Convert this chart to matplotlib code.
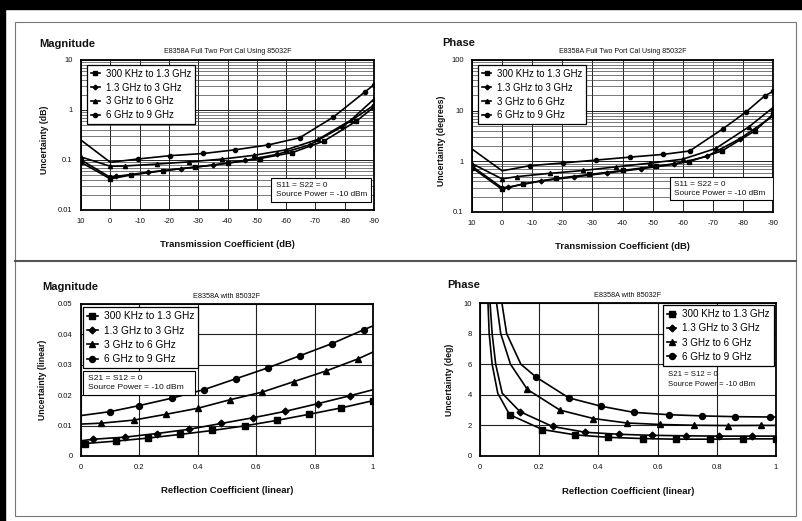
import matplotlib
matplotlib.use('Agg')
import matplotlib.pyplot as plt
from matplotlib.patches import Rectangle
from matplotlib.lines import Line2D
from matplotlib.ticker import LogLocator, NullFormatter

plt.rcParams['font.family'] = ['Liberation Sans', 'DejaVu Sans']

# ---------------- data ----------------
series_labels = ['300 KHz to 1.3 GHz', '1.3 GHz to 3 GHz', '3 GHz to 6 GHz', '6 GHz to 9 GHz']
series_markers = ['s', 'D', '^', 'o']

trans_ticks = [10, 0, -10, -20, -30, -40, -50, -60, -70, -80, -90]
trans_ticklabels = ['10', '0', '-10', '-20', '-30', '-40', '-50', '-60', '-70', '-80', '-90']
refl_ticks = [0, 0.2, 0.4, 0.6, 0.8, 1]
refl_ticklabels = ['0', '0.2', '0.4', '0.6', '0.8', '1']

# Top-left: Magnitude uncertainty (dB) vs transmission coefficient
tl_x_sq = [10, 0, -7, -18, -29, -40, -51, -62, -73, -84, -90]
tl_y_sq = [0.09, 0.042, 0.05, 0.061, 0.072, 0.086, 0.107, 0.14, 0.24, 0.6, 1.15]
tl_x_di = [10, 0, -2, -13, -24, -35, -46, -57, -68, -79, -90]
tl_y_di = [0.1, 0.045, 0.047, 0.057, 0.067, 0.079, 0.098, 0.13, 0.2, 0.46, 1.25]
tl_x_tr = [10, 0, -5, -16, -27, -38, -49, -60, -71, -82, -90]
tl_y_tr = [0.115, 0.075, 0.076, 0.083, 0.092, 0.104, 0.124, 0.16, 0.26, 0.62, 1.65]
tl_x_ci = [10, 0, -9.6, -20.4, -31.8, -42.6, -53.9, -64.7, -76.1, -86.9, -90]
tl_y_ci = [0.25, 0.09, 0.105, 0.122, 0.135, 0.16, 0.2, 0.28, 0.72, 2.3, 3.2]

# Top-right: Phase uncertainty (degrees) vs transmission coefficient
tr_x_sq = [10, 0, -7, -18, -29, -40, -51, -62, -73, -84, -90]
tr_y_sq = [0.75, 0.28, 0.36, 0.46, 0.55, 0.66, 0.8, 0.98, 1.6, 4.0, 8.5]
tr_x_di = [10, 0, -2, -13, -24, -35, -46, -57, -68, -79, -90]
tr_y_di = [0.8, 0.3, 0.31, 0.41, 0.49, 0.59, 0.71, 0.87, 1.25, 2.8, 7.8]
tr_x_tr = [10, 0, -5, -16, -27, -38, -49, -60, -71, -82, -90]
tr_y_tr = [0.9, 0.45, 0.5, 0.58, 0.66, 0.78, 0.92, 1.1, 1.8, 4.8, 11.5]
tr_x_ci = [10, 0, -9.2, -20.2, -31.3, -42.4, -53.5, -62.3, -73.4, -81.1, -87.2, -90]
tr_y_ci = [1.75, 0.65, 0.82, 0.93, 1.06, 1.21, 1.37, 1.6, 4.4, 9.5, 19.5, 24]

# Bottom-left: Magnitude uncertainty (linear) vs reflection coefficient
bl_x_sq = [0, 0.012, 0.12, 0.23, 0.34, 0.45, 0.56, 0.67, 0.78, 0.89, 1.0]
bl_y_sq = [0.004, 0.0041, 0.0049, 0.0059, 0.0071, 0.0084, 0.0099, 0.0117, 0.0137, 0.0158, 0.0182]
bl_x_di = [0, 0.04, 0.15, 0.26, 0.37, 0.48, 0.59, 0.7, 0.81, 0.92, 1.0]
bl_y_di = [0.005, 0.0055, 0.0062, 0.0074, 0.0088, 0.0107, 0.0126, 0.0147, 0.0172, 0.0198, 0.0218]
bl_x_tr = [0, 0.07, 0.18, 0.29, 0.4, 0.51, 0.62, 0.73, 0.84, 0.95, 1.0]
bl_y_tr = [0.0105, 0.0108, 0.0118, 0.0137, 0.0157, 0.0185, 0.021, 0.0245, 0.028, 0.032, 0.0342]
bl_x_ci = [0, 0.1, 0.2, 0.31, 0.42, 0.53, 0.64, 0.75, 0.86, 0.97, 1.0]
bl_y_ci = [0.0133, 0.0146, 0.0166, 0.019, 0.0218, 0.0254, 0.029, 0.033, 0.037, 0.0416, 0.0428]

# Bottom-right: Phase uncertainty (deg) vs reflection coefficient
br_x_sq = [0.027, 0.031, 0.041, 0.06, 0.1, 0.211, 0.322, 0.434, 0.549, 0.663, 0.777, 0.889, 1.0]
br_y_sq = [10, 8, 6, 4.1, 2.7, 1.73, 1.38, 1.22, 1.14, 1.1, 1.1, 1.12, 1.12]
br_x_di = [0.034, 0.041, 0.053, 0.075, 0.135, 0.245, 0.356, 0.47, 0.581, 0.695, 0.806, 0.918, 1.0]
br_y_di = [10, 8, 6, 4.1, 2.9, 1.93, 1.55, 1.42, 1.35, 1.32, 1.3, 1.3, 1.3]
br_x_tr = [0.056, 0.07, 0.103, 0.16, 0.27, 0.383, 0.495, 0.608, 0.722, 0.837, 0.949, 1.0]
br_y_tr = [10, 8, 6, 4.35, 3.0, 2.45, 2.16, 2.06, 2.01, 1.99, 2.0, 2.0]
br_x_ci = [0.074, 0.09, 0.138, 0.19, 0.3, 0.41, 0.52, 0.637, 0.75, 0.863, 0.979, 1.0]
br_y_ci = [10, 8, 6, 5.15, 3.8, 3.25, 2.85, 2.7, 2.62, 2.57, 2.55, 2.55]

# ---------------- figure ----------------
W, H = 802, 521
fig = plt.figure(figsize=(W / 100, H / 100), dpi=100)
fig.patch.set_facecolor('white')


def fx(px):
    return px / W


def fy(py):
    return 1 - py / H


def box(l, t, r, b):
    return [fx(l), fy(b), fx(r) - fx(l), fy(t) - fy(b)]


# page decorations
fig.patches.append(Rectangle((0, fy(9)), 1, 9 / H, transform=fig.transFigure, color='black', zorder=0))
fig.patches.append(Rectangle((0, 0), fx(5), 1, transform=fig.transFigure, color='black', zorder=0))
fig.patches.append(Rectangle((fx(15), fy(516)), fx(796) - fx(15), fy(22) - fy(516),
                             transform=fig.transFigure, fill=False, ec='#777777', lw=0.8, zorder=0))
fig.lines.append(Line2D([fx(15), fx(796)], [fy(261), fy(261)], transform=fig.transFigure,
                        color='#555555', lw=1.5))

TXT = '#111111'


def style_axes(ax):
    for s in ax.spines.values():
        s.set_linewidth(1.3)
        s.set_color('black')
    ax.tick_params(axis='both', which='both', length=0, labelsize=5.5, colors=TXT, pad=6)
    ax.set_axisbelow(True)


def add_legend(ax, handles, anchor, fs, spacing):
    leg = ax.legend(handles=handles, labels=series_labels, loc='upper left', bbox_to_anchor=anchor,
                    fontsize=fs, frameon=True, fancybox=False, edgecolor='black', framealpha=1,
                    borderpad=0.4, labelspacing=spacing, handlelength=1.0, handletextpad=0.6,
                    borderaxespad=0)
    leg.get_frame().set_linewidth(0.9)
    return leg


def plot_series(ax, xs, ys, ms, markevery):
    handles = []
    for (x, y, m, me) in zip(xs, ys, series_markers, markevery):
        size = ms * (0.8 if m == 'D' else 1.0)
        h, = ax.plot(x, y, color='black', lw=1.2, marker=m, markersize=size,
                     markerfacecolor='black', markeredgecolor='black', markevery=me, zorder=3)
        handles.append(h)
    return handles


def annotate_box(ax, l, b, w, h, lines, fs, border=True):
    if border:
        ax.add_patch(Rectangle((l, b), w, h, transform=ax.transAxes, fc='white', ec='black',
                               lw=0.8, zorder=4))
    ax.text(l + 0.015, b + h * 0.7, lines[0], transform=ax.transAxes, fontsize=fs, color=TXT,
            va='center', ha='left', zorder=5)
    ax.text(l + 0.015, b + h * 0.3, lines[1], transform=ax.transAxes, fontsize=fs, color=TXT,
            va='center', ha='left', zorder=5)


# ---- Top-left ----
ax1 = fig.add_axes(box(81, 60, 374, 210))
style_axes(ax1)
ax1.set_yscale('log')
ax1.set_ylim(0.01, 10)
ax1.set_xlim(10, -90)
ax1.set_xticks(trans_ticks)
ax1.set_xticklabels(trans_ticklabels)
ax1.set_yticks([0.01, 0.1, 1, 10])
ax1.set_yticklabels(['0.01', '0.1', '1', '10'])
ax1.yaxis.set_minor_locator(LogLocator(base=10, subs=range(2, 10)))
ax1.yaxis.set_minor_formatter(NullFormatter())
ax1.grid(True, which='major', color='#222222', lw=0.7)
ax1.grid(True, which='minor', axis='y', color='#444444', lw=0.5)
h1 = plot_series(ax1, [tl_x_sq, tl_x_di, tl_x_tr, tl_x_ci], [tl_y_sq, tl_y_di, tl_y_tr, tl_y_ci], 3.0,
                 [slice(0, None), slice(0, None), slice(0, None), slice(2, None)])
add_legend(ax1, h1, (0.02, 0.967), 6.9, 0.4)
annotate_box(ax1, 0.65, 0.056, 0.34, 0.155, ['S11 = S22 = 0', 'Source Power = -10 dBm'], 5.9)
ax1.text(0.5, 1.055, 'E8358A Full Two Port Cal Using 85032F', transform=ax1.transAxes, fontsize=5.1,
         ha='center', va='center', color=TXT)
ax1.set_xlabel('Transmission Coefficient (dB)', fontsize=6.8, fontweight='bold', color=TXT)
ax1.xaxis.set_label_coords(0.5, -0.2)
ax1.set_ylabel('Uncertainty (dB)', fontsize=6.3, fontweight='bold', color=TXT)
ax1.yaxis.set_label_coords(-0.11, 0.47)

# ---- Top-right ----
ax2 = fig.add_axes(box(472, 60, 773, 212))
style_axes(ax2)
ax2.set_yscale('log')
ax2.set_ylim(0.1, 100)
ax2.set_xlim(10, -90)
ax2.set_xticks(trans_ticks)
ax2.set_xticklabels(trans_ticklabels)
ax2.set_yticks([0.1, 1, 10, 100])
ax2.set_yticklabels(['0.1', '1', '10', '100'])
ax2.yaxis.set_minor_locator(LogLocator(base=10, subs=range(2, 10)))
ax2.yaxis.set_minor_formatter(NullFormatter())
ax2.grid(True, which='major', color='#222222', lw=0.7)
ax2.grid(True, which='minor', axis='y', color='#444444', lw=0.5)
h2 = plot_series(ax2, [tr_x_sq, tr_x_di, tr_x_tr, tr_x_ci], [tr_y_sq, tr_y_di, tr_y_tr, tr_y_ci], 3.0,
                 [slice(0, None), slice(0, None), slice(0, None), slice(2, None)])
add_legend(ax2, h2, (0.02, 0.967), 6.9, 0.4)
annotate_box(ax2, 0.657, 0.076, 0.342, 0.152, ['S11 = S22 = 0', 'Source Power = -10 dBm'], 5.9)
ax2.text(0.5, 1.055, 'E8358A Full Two Port Cal Using 85032F', transform=ax2.transAxes, fontsize=5.1,
         ha='center', va='center', color=TXT)
ax2.set_xlabel('Transmission Coefficient (dB)', fontsize=6.8, fontweight='bold', color=TXT)
ax2.xaxis.set_label_coords(0.5, -0.2)
ax2.set_ylabel('Uncertainty (degrees)', fontsize=6.3, fontweight='bold', color=TXT)
ax2.yaxis.set_label_coords(-0.085, 0.47)

# ---- Bottom-left ----
ax3 = fig.add_axes(box(81, 304, 373, 456))
style_axes(ax3)
ax3.set_xlim(0, 1)
ax3.set_ylim(0, 0.05)
ax3.set_xticks(refl_ticks)
ax3.set_xticklabels(refl_ticklabels)
ax3.set_yticks([0, 0.01, 0.02, 0.03, 0.04, 0.05])
ax3.set_yticklabels(['0', '0.01', '0.02', '0.03', '0.04', '0.05'])
ax3.grid(True, color='#222222', lw=0.8)
h3 = plot_series(ax3, [bl_x_sq, bl_x_di, bl_x_tr, bl_x_ci], [bl_y_sq, bl_y_di, bl_y_tr, bl_y_ci], 4.3,
                 [slice(1, None), slice(1, 10), slice(1, 10), slice(1, 10)])
add_legend(ax3, h3, (0.008, 0.978), 7.3, 0.42)
annotate_box(ax3, 0.008, 0.404, 0.382, 0.154, ['S21 = S12 = 0', 'Source Power = -10 dBm'], 6.1)
ax3.text(0.5, 1.05, 'E8358A with 85032F', transform=ax3.transAxes, fontsize=5.2,
         ha='center', va='center', color=TXT)
ax3.set_xlabel('Reflection Coefficient (linear)', fontsize=6.8, fontweight='bold', color=TXT)
ax3.xaxis.set_label_coords(0.5, -0.2)
ax3.set_ylabel('Uncertainty (linear)', fontsize=6.3, fontweight='bold', color=TXT)
ax3.yaxis.set_label_coords(-0.115, 0.5)

# ---- Bottom-right ----
ax4 = fig.add_axes(box(480, 303, 776, 456))
style_axes(ax4)
ax4.set_xlim(0, 1)
ax4.set_ylim(0, 10)
ax4.set_xticks(refl_ticks)
ax4.set_xticklabels(refl_ticklabels)
ax4.set_yticks([0, 2, 4, 6, 8, 10])
ax4.set_yticklabels(['0', '2', '4', '6', '8', '10'])
ax4.grid(True, color='#222222', lw=0.8)
h4 = plot_series(ax4, [br_x_sq, br_x_di, br_x_tr, br_x_ci], [br_y_sq, br_y_di, br_y_tr, br_y_ci], 4.3,
                 [slice(4, 13), slice(4, 12), slice(3, 11), slice(3, 11)])
add_legend(ax4, h4, (0.617, 0.985), 7.1, 0.42)
annotate_box(ax4, 0.62, 0.42, 0.37, 0.16, ['S21 = S12 = 0', 'Source Power = -10 dBm'], 5.6, border=False)
ax4.text(0.5, 1.05, 'E8358A with 85032F', transform=ax4.transAxes, fontsize=5.2,
         ha='center', va='center', color=TXT)
ax4.set_xlabel('Reflection Coefficient (linear)', fontsize=6.8, fontweight='bold', color=TXT)
ax4.xaxis.set_label_coords(0.5, -0.2)
ax4.set_ylabel('Uncertainty (deg)', fontsize=6.3, fontweight='bold', color=TXT)
ax4.yaxis.set_label_coords(-0.087, 0.5)

# panel headings
fig.text(fx(39), fy(44), 'Magnitude', fontsize=8, fontweight='bold', ha='left', va='center', color=TXT)
fig.text(fx(442), fy(43), 'Phase', fontsize=8, fontweight='bold', ha='left', va='center', color=TXT)
fig.text(fx(42), fy(287), 'Magnitude', fontsize=8, fontweight='bold', ha='left', va='center', color=TXT)
fig.text(fx(447), fy(285), 'Phase', fontsize=8, fontweight='bold', ha='left', va='center', color=TXT)

fig.savefig('out.png', dpi=100, facecolor='white')
